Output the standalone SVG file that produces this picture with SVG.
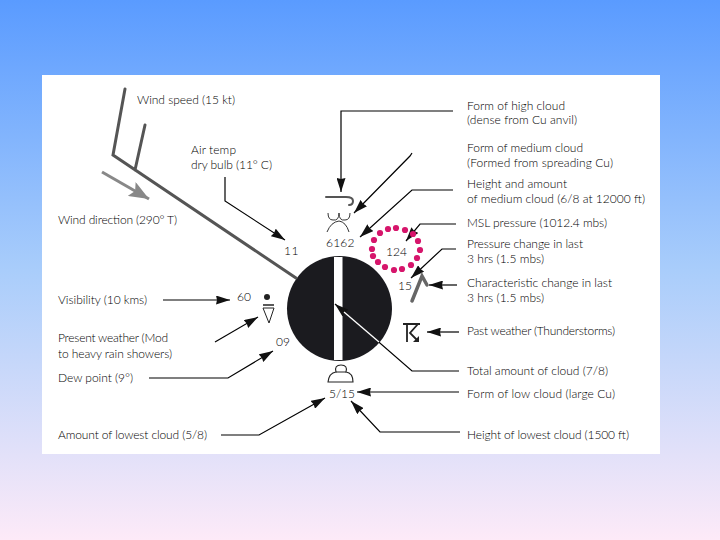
<svg xmlns="http://www.w3.org/2000/svg" width="720" height="540" viewBox="0 0 720 540">
<style>
text{font-family:"Lato","Liberation Sans",sans-serif;font-size:12px;font-weight:300;fill:#000}
.n{font-size:12px}
.l{fill:none;stroke:#000;stroke-width:1.2}
.a{marker-end:url(#ah)}
.g{fill:none;stroke:#555;stroke-width:3;stroke-linecap:round;stroke-linejoin:miter}
.t{fill:none;stroke:#333;stroke-width:1}
.d circle{fill:#d6156b;r:3.1px}
</style>
<defs>
<linearGradient id="bg" x1="0" y1="0" x2="0" y2="1"><stop offset="0" stop-color="#5a9bff"/><stop offset="0.5" stop-color="#a9cdfb"/><stop offset="1" stop-color="#fdeaf8"/></linearGradient>
<marker id="ah" viewBox="0 0 14 9" refX="14" refY="4.5" markerWidth="14" markerHeight="9" markerUnits="userSpaceOnUse" orient="auto"><path d="M0 0L14 4.5L0 9L1 4.5Z" fill="#111"/></marker>
<marker id="gh" viewBox="0 0 20 16" refX="20" refY="8" markerWidth="20" markerHeight="16" markerUnits="userSpaceOnUse" orient="auto"><path d="M0 0L20 8L0 16L4 8Z" fill="#888"/></marker>
</defs>
<rect width="720" height="540" fill="url(#bg)"/>
<rect x="42" y="75" width="618" height="379" fill="#fff"/>

<g id="station">
<circle cx="339.5" cy="308.5" r="52.5" fill="#1b1b1f"/>
<rect x="334" y="257" width="8.5" height="103" fill="#fff"/>
</g>

<g id="connectors">
<path class="l a" d="M453 111H341V192"/>
<path class="l a" d="M412 153L410 156L354 213"/>
<path class="l a" d="M453 190H412L360 237"/>
<path class="l a" d="M456 224H420L406 241"/>
<path class="l a" d="M456 249H442L411 278"/>
<path class="l a" d="M457 285H429"/>
<path class="l a" d="M459 332H427"/>
<path class="l a" d="M459 371H412L335 304"/>
<path d="M344 312L379 342" stroke="#fff" stroke-width="1.4" fill="none"/>
<path class="l a" d="M459 392H357"/>
<path class="l a" d="M460 432H380L351 401"/>
<path class="l a" d="M221 435H259L325 398"/>
<path class="l a" d="M149 378H228L273 351"/>
<path class="l a" d="M215 342L258 317"/>
<path class="l a" d="M163 300H230"/>
<path class="l a" d="M225 177V201L285 240"/>
</g>

<g id="wind-barb"><path class="g" d="M125 89L113 155L296 278M135 170L145 125"/></g>
<g id="wind-direction-arrow"><path d="M102 172L149 199" stroke="#888" stroke-width="3" fill="none" marker-end="url(#gh)"/></g>

<g id="high-cloud-symbol"><path class="g" style="stroke-width:2" d="M326 197H346Q353 197 353 201Q353 205 349 205"/></g>
<g id="medium-cloud-symbol"><path class="t" d="M328 213Q328 220 333 220Q339 221 339 213M339 213Q339 221 345 220Q350 220 350 213M327 232Q331 222 339 221Q346 222 349 232"/></g>
<g id="low-cloud-symbol"><path d="M328 382Q329 373 336 372Q334 365 341 365Q348 365 346 372Q353 373 353 382Z" fill="none" stroke="#222" stroke-width="1.1"/><path d="M336 372H346" stroke="#222" stroke-width="1"/></g>
<g id="present-weather-symbol"><circle cx="267" cy="297" r="3" fill="#222"/><path d="M263 305H274" stroke="#222" stroke-width="1.5"/><path d="M263 308H274L269 323Z" fill="none" stroke="#222" stroke-width="1"/></g>
<g id="pressure-tendency-symbol"><path class="g" style="stroke:#666;stroke-width:3.5" d="M412 301L422 276L427 285"/></g>
<g id="past-weather-symbol"><path d="M403 324H420M407 324V342M418 324L410 333L417 340" fill="none" stroke="#222" stroke-width="1.8"/><path d="M413 342L419 342L419 336Z" fill="#222"/></g>

<g id="pressure-dots" class="d">
<circle cx="396" cy="228"/><circle cx="388" cy="229"/><circle cx="380" cy="233"/><circle cx="374" cy="240"/><circle cx="372" cy="249"/><circle cx="373" cy="256"/><circle cx="378" cy="262"/><circle cx="385" cy="267"/><circle cx="394" cy="270"/><circle cx="402" cy="269"/><circle cx="411" cy="265"/><circle cx="417" cy="258"/><circle cx="420" cy="250"/><circle cx="418" cy="241"/><circle cx="413" cy="234"/><circle cx="405" cy="230"/>
</g>

<g id="values">
<text class="n" x="284" y="255" letter-spacing="0.5">11</text>
<text class="n" x="326" y="247" letter-spacing="0.2">6162</text>
<text class="n" x="386" y="256">124</text>
<text class="n" x="398" y="290">15</text>
<text class="n" x="237" y="301">60</text>
<text class="n" x="276" y="346">09</text>
<text class="n" x="329" y="398" textLength="26">5/15</text>
</g>

<g id="labels">
<text x="137" y="104" textLength="98">Wind speed (15 kt)</text>
<text x="191" y="154" textLength="45">Air temp</text>
<text x="191" y="169" textLength="81">dry bulb (11° C)</text>
<text x="58" y="224" textLength="119">Wind direction (290° T)</text>
<text x="58" y="304" textLength="89">Visibility (10 kms)</text>
<text x="58" y="342" textLength="110">Present weather (Mod</text>
<text x="58" y="358" textLength="114">to heavy rain showers)</text>
<text x="58" y="382" textLength="75">Dew point (9°)</text>
<text x="58" y="439" textLength="149">Amount of lowest cloud (5/8)</text>
<text x="467" y="110" textLength="98">Form of high cloud</text>
<text x="467" y="124" textLength="110">(dense from Cu anvil)</text>
<text x="467" y="152" textLength="116">Form of medium cloud</text>
<text x="467" y="167" textLength="146">(Formed from spreading Cu)</text>
<text x="467" y="188" textLength="100">Height and amount</text>
<text x="467" y="203" textLength="178">of medium cloud (6/8 at 12000 ft)</text>
<text x="467" y="227" textLength="140">MSL pressure (1012.4 mbs)</text>
<text x="467" y="248" textLength="116">Pressure change in last</text>
<text x="467" y="263" textLength="77">3 hrs (1.5 mbs)</text>
<text x="467" y="287" textLength="145">Characteristic change in last</text>
<text x="467" y="302" textLength="77">3 hrs (1.5 mbs)</text>
<text x="467" y="335" textLength="148">Past weather (Thunderstorms)</text>
<text x="467" y="375" textLength="141">Total amount of cloud (7/8)</text>
<text x="467" y="398" textLength="148">Form of low cloud (large Cu)</text>
<text x="467" y="439" textLength="162">Height of lowest cloud (1500 ft)</text>
</g>
</svg>
